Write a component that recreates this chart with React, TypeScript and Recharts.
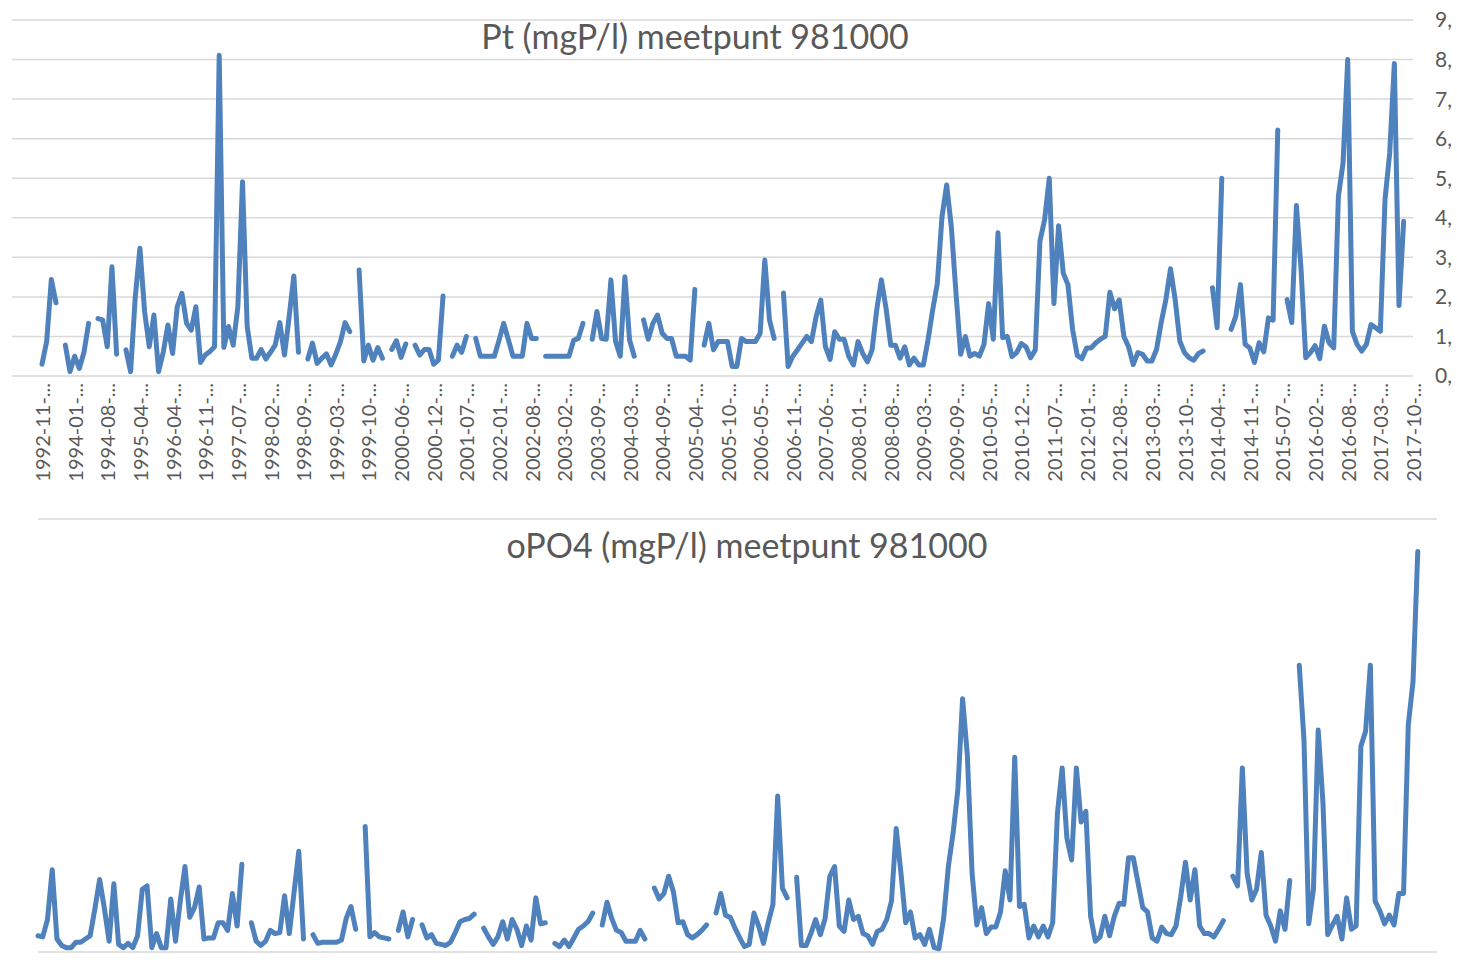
import { LineChart, Line, XAxis, YAxis, CartesianGrid } from 'recharts';

// one label every 7 samples along the category axis
const TICK_EVERY = 7;
const tickLabels = [
  '1992-11', '1994-01', '1994-08', '1995-04', '1996-04', '1996-11', '1997-07', '1998-02',
  '1998-09', '1999-03', '1999-10', '2000-06', '2000-12', '2001-07', '2002-01', '2002-08',
  '2003-02', '2003-09', '2004-03', '2004-09', '2005-04', '2005-10', '2006-05', '2006-11',
  '2007-06', '2008-01', '2008-08', '2009-03', '2009-09', '2010-05', '2010-12', '2011-07',
  '2012-01', '2012-08', '2013-03', '2013-10', '2014-04', '2014-11', '2015-07', '2016-02',
  '2016-08', '2017-03', '2017-10',
];

// Pt (mgP/l), one value per sample, null = no measurement
const ptValues: (number | null)[] = [
  0.30, 0.87, 2.44, 1.85, null, 0.78, 0.11, 0.50, 0.19, 0.60,
  1.33, null, 1.45, 1.42, 0.74, 2.76, 0.55, null, 0.66, 0.11,
  2.00, 3.23, 1.63, 0.74, 1.54, 0.11, 0.60, 1.29, 0.57, 1.75,
  2.09, 1.33, 1.16, 1.75, 0.34, 0.53, 0.62, 0.74, 8.11, 0.72,
  1.25, 0.78, 1.75, 4.91, 1.25, 0.45, 0.45, 0.67, 0.43, 0.60,
  0.78, 1.35, 0.53, 1.50, 2.53, 0.60, null, 0.43, 0.83, 0.32,
  0.45, 0.56, 0.28, 0.55, 0.87, 1.35, 1.12, null, 2.68, 0.38,
  0.78, 0.40, 0.72, 0.45, null, 0.67, 0.89, 0.47, 0.81, null,
  0.78, 0.53, 0.67, 0.67, 0.30, 0.40, 2.02, null, 0.50, 0.78,
  0.60, 1.00, null, 0.95, 0.50, 0.50, 0.50, 0.50, 0.90, 1.33,
  0.92, 0.50, 0.50, 0.50, 1.33, 0.95, 0.95, null, 0.50, 0.50,
  0.50, 0.50, 0.50, 0.50, 0.90, 0.95, 1.33, null, 0.93, 1.63,
  0.95, 0.93, 2.43, 0.87, 0.50, 2.51, 0.91, 0.50, null, 1.42,
  0.93, 1.33, 1.54, 1.08, 0.95, 0.95, 0.50, 0.50, 0.50, 0.40,
  2.19, null, 0.78, 1.33, 0.66, 0.87, 0.87, 0.87, 0.24, 0.24,
  0.95, 0.87, 0.87, 0.87, 1.08, 2.93, 1.42, 0.95, null, 2.10,
  0.24, 0.50, 0.66, 0.83, 1.00, 0.87, 1.50, 1.92, 0.74, 0.42,
  1.12, 0.93, 0.93, 0.50, 0.28, 0.87, 0.57, 0.36, 0.66, 1.67,
  2.43, 1.71, 0.78, 0.78, 0.45, 0.74, 0.28, 0.45, 0.28, 0.28,
  0.91, 1.67, 2.34, 4.03, 4.83, 3.77, 2.09, 0.55, 1.00, 0.50,
  0.57, 0.50, 0.80, 1.83, 0.93, 3.62, 0.97, 1.00, 0.49, 0.59,
  0.82, 0.74, 0.46, 0.66, 3.41, 3.95, 5.00, 1.83, 3.80, 2.60,
  2.31, 1.18, 0.52, 0.44, 0.71, 0.71, 0.84, 0.93, 1.00, 2.12,
  1.70, 1.92, 1.00, 0.74, 0.29, 0.59, 0.55, 0.38, 0.38, 0.67,
  1.35, 1.93, 2.71, 1.93, 0.88, 0.59, 0.46, 0.40, 0.57, 0.63,
  null, 2.23, 1.22, 5.00, null, 1.18, 1.51, 2.31, 0.80, 0.71,
  0.34, 0.84, 0.61, 1.47, 1.41, 6.22, null, 1.93, 1.35, 4.31,
  2.69, 0.46, 0.59, 0.77, 0.44, 1.26, 0.84, 0.71, 4.54, 5.38,
  8.00, 1.13, 0.80, 0.63, 0.80, 1.30, 1.22, 1.13, 4.46, 5.64,
  7.90, 1.78, 3.91, null, null,
];

// oPO4 (mgP/l)
const po4Values: (number | null)[] = [
  0.15, 0.14, 0.30, 0.76, 0.12, 0.06, 0.04, 0.04, 0.09, 0.09,
  0.12, 0.15, 0.40, 0.67, 0.40, 0.10, 0.63, 0.07, 0.04, 0.08,
  0.04, 0.15, 0.58, 0.61, 0.04, 0.17, 0.04, 0.04, 0.49, 0.10,
  0.47, 0.79, 0.32, 0.41, 0.60, 0.12, 0.13, 0.13, 0.27, 0.27,
  0.20, 0.54, 0.24, 0.81, null, 0.27, 0.10, 0.06, 0.10, 0.20,
  0.17, 0.18, 0.52, 0.17, 0.55, 0.93, 0.12, null, 0.16, 0.08,
  0.09, 0.09, 0.09, 0.09, 0.11, 0.31, 0.42, 0.21, null, 1.16,
  0.14, 0.18, 0.14, 0.13, 0.12, null, 0.20, 0.37, 0.14, 0.30,
  null, 0.25, 0.13, 0.16, 0.08, 0.07, 0.06, 0.09, 0.18, 0.28,
  0.30, 0.31, 0.35, null, 0.22, 0.14, 0.07, 0.14, 0.28, 0.12,
  0.30, 0.21, 0.06, 0.24, 0.11, 0.50, 0.26, 0.27, null, 0.08,
  0.05, 0.11, 0.05, 0.13, 0.21, 0.24, 0.28, 0.36, null, 0.25,
  0.46, 0.31, 0.20, 0.18, 0.10, 0.10, 0.10, 0.20, 0.12, null,
  0.59, 0.49, 0.54, 0.70, 0.56, 0.27, 0.28, 0.16, 0.13, 0.16,
  0.20, 0.25, null, 0.36, 0.54, 0.34, 0.32, 0.22, 0.13, 0.05,
  0.07, 0.36, 0.24, 0.08, 0.27, 0.44, 1.44, 0.59, 0.50, null,
  0.69, 0.06, 0.06, 0.17, 0.30, 0.16, 0.31, 0.70, 0.79, 0.24,
  0.19, 0.48, 0.30, 0.33, 0.17, 0.15, 0.07, 0.19, 0.21, 0.30,
  0.47, 1.14, 0.73, 0.27, 0.37, 0.13, 0.16, 0.07, 0.21, 0.04,
  0.03, 0.31, 0.79, 1.10, 1.50, 2.34, 1.82, 0.73, 0.25, 0.41,
  0.17, 0.23, 0.23, 0.37, 0.75, 0.48, 1.80, 0.42, 0.44, 0.13,
  0.24, 0.14, 0.24, 0.14, 0.27, 1.28, 1.70, 1.05, 0.85, 1.70,
  1.20, 1.30, 0.33, 0.10, 0.14, 0.33, 0.15, 0.33, 0.45, 0.44,
  0.87, 0.87, 0.64, 0.41, 0.37, 0.13, 0.10, 0.23, 0.17, 0.16,
  0.24, 0.51, 0.83, 0.48, 0.76, 0.24, 0.17, 0.17, 0.14, 0.21,
  0.29, null, 0.70, 0.61, 1.70, 0.73, 0.48, 0.58, 0.92, 0.34,
  0.24, 0.10, 0.38, 0.21, 0.66, null, 2.65, 1.96, 0.26, 0.58,
  2.05, 1.38, 0.16, 0.25, 0.33, 0.12, 0.50, 0.21, 0.24, 1.90,
  2.04, 2.65, 0.47, 0.38, 0.26, 0.34, 0.25, 0.54, 0.54, 2.10,
  2.50, 3.70, null, null, null,
];

const ptTicks = [0, 1, 2, 3, 4, 5, 6, 7, 8, 9];
const po4Ticks = [0, 0.5, 1, 1.5, 2, 2.5, 3, 3.5, 4];

const BLUE = '#4f81bd';
const GRID = '#d9d9d9';
const TEXT = '#595959';
const FONT = 'Lato, "Open Sans", sans-serif';

const rows = ptValues.map((pt, i) => ({ i, pt, po4: po4Values[i] }));
const lastIndex = rows.length - 1;
const xTicks = tickLabels.map((_, k) => k * TICK_EVERY);

function DateTick({ x, y, payload }: any) {
  const label = tickLabels[Math.round(payload.value / TICK_EVERY)];
  return (
    <text
      transform={`translate(${x},${y}) rotate(-90)`}
      textAnchor="end"
      dominantBaseline="central"
      fill={TEXT}
      fontSize={20}
      fontFamily={FONT}
    >
      {label}-...
    </text>
  );
}

export default function App() {
  return (
    <div style={{ position: 'absolute', left: 0, top: 0, width: 1457, height: 963, background: '#fff' }}>
      <div style={{ position: 'absolute', left: 0, top: 0 }}>
        <LineChart width={1457} height={490} data={rows} margin={{ top: 20, right: 0, left: 12, bottom: 0 }}>
          <CartesianGrid vertical={false} stroke={GRID} strokeWidth={1.5} />
          <XAxis
            dataKey="i" type="number" domain={[0, lastIndex]} ticks={xTicks} interval={0}
            padding={{ left: 30, right: 0 }} height={114}
            axisLine={false} tickLine={false} tickSize={0} tickMargin={7}
            tick={<DateTick />}
          />
          <YAxis
            orientation="right" width={44} domain={[0, 9]} ticks={ptTicks}
            axisLine={false} tickLine={false} tickSize={0} tickMargin={22}
            tickFormatter={(v: number) => `${v},`}
            tick={{ fill: TEXT, fontSize: 21, fontFamily: FONT }}
          />
          <Line
            dataKey="pt" stroke={BLUE} strokeWidth={5} dot={false} activeDot={false}
            strokeLinejoin="round" strokeLinecap="round" isAnimationActive={false}
          />
        </LineChart>
      </div>
      <div style={{ position: 'absolute', left: 0, top: 500 }}>
        <LineChart width={1457} height={463} data={rows} margin={{ top: 19, right: 20, left: 38, bottom: 11 }}>
          <CartesianGrid vertical={false} stroke={GRID} strokeWidth={1.5} />
          <XAxis
            dataKey="i" type="number" domain={[0, lastIndex]} padding={{ left: 0, right: 5 }}
            height={0} tick={false} axisLine={false} tickLine={false}
          />
          <YAxis width={0} domain={[0, 4]} ticks={po4Ticks} tick={false} axisLine={false} tickLine={false} />
          <Line
            dataKey="po4" stroke={BLUE} strokeWidth={5} dot={false} activeDot={false}
            strokeLinejoin="round" strokeLinecap="round" isAnimationActive={false}
          />
        </LineChart>
      </div>
      <svg width={1457} height={963} style={{ position: 'absolute', left: 0, top: 0, pointerEvents: 'none' }}>
        <text x={695} y={49} textAnchor="middle" fill={TEXT} fontSize={34} fontFamily={FONT}>
          Pt (mgP/l) meetpunt 981000
        </text>
        <text x={747} y={558} textAnchor="middle" fill={TEXT} fontSize={34} fontFamily={FONT}>
          oPO4 (mgP/l) meetpunt 981000
        </text>
      </svg>
    </div>
  );
}
